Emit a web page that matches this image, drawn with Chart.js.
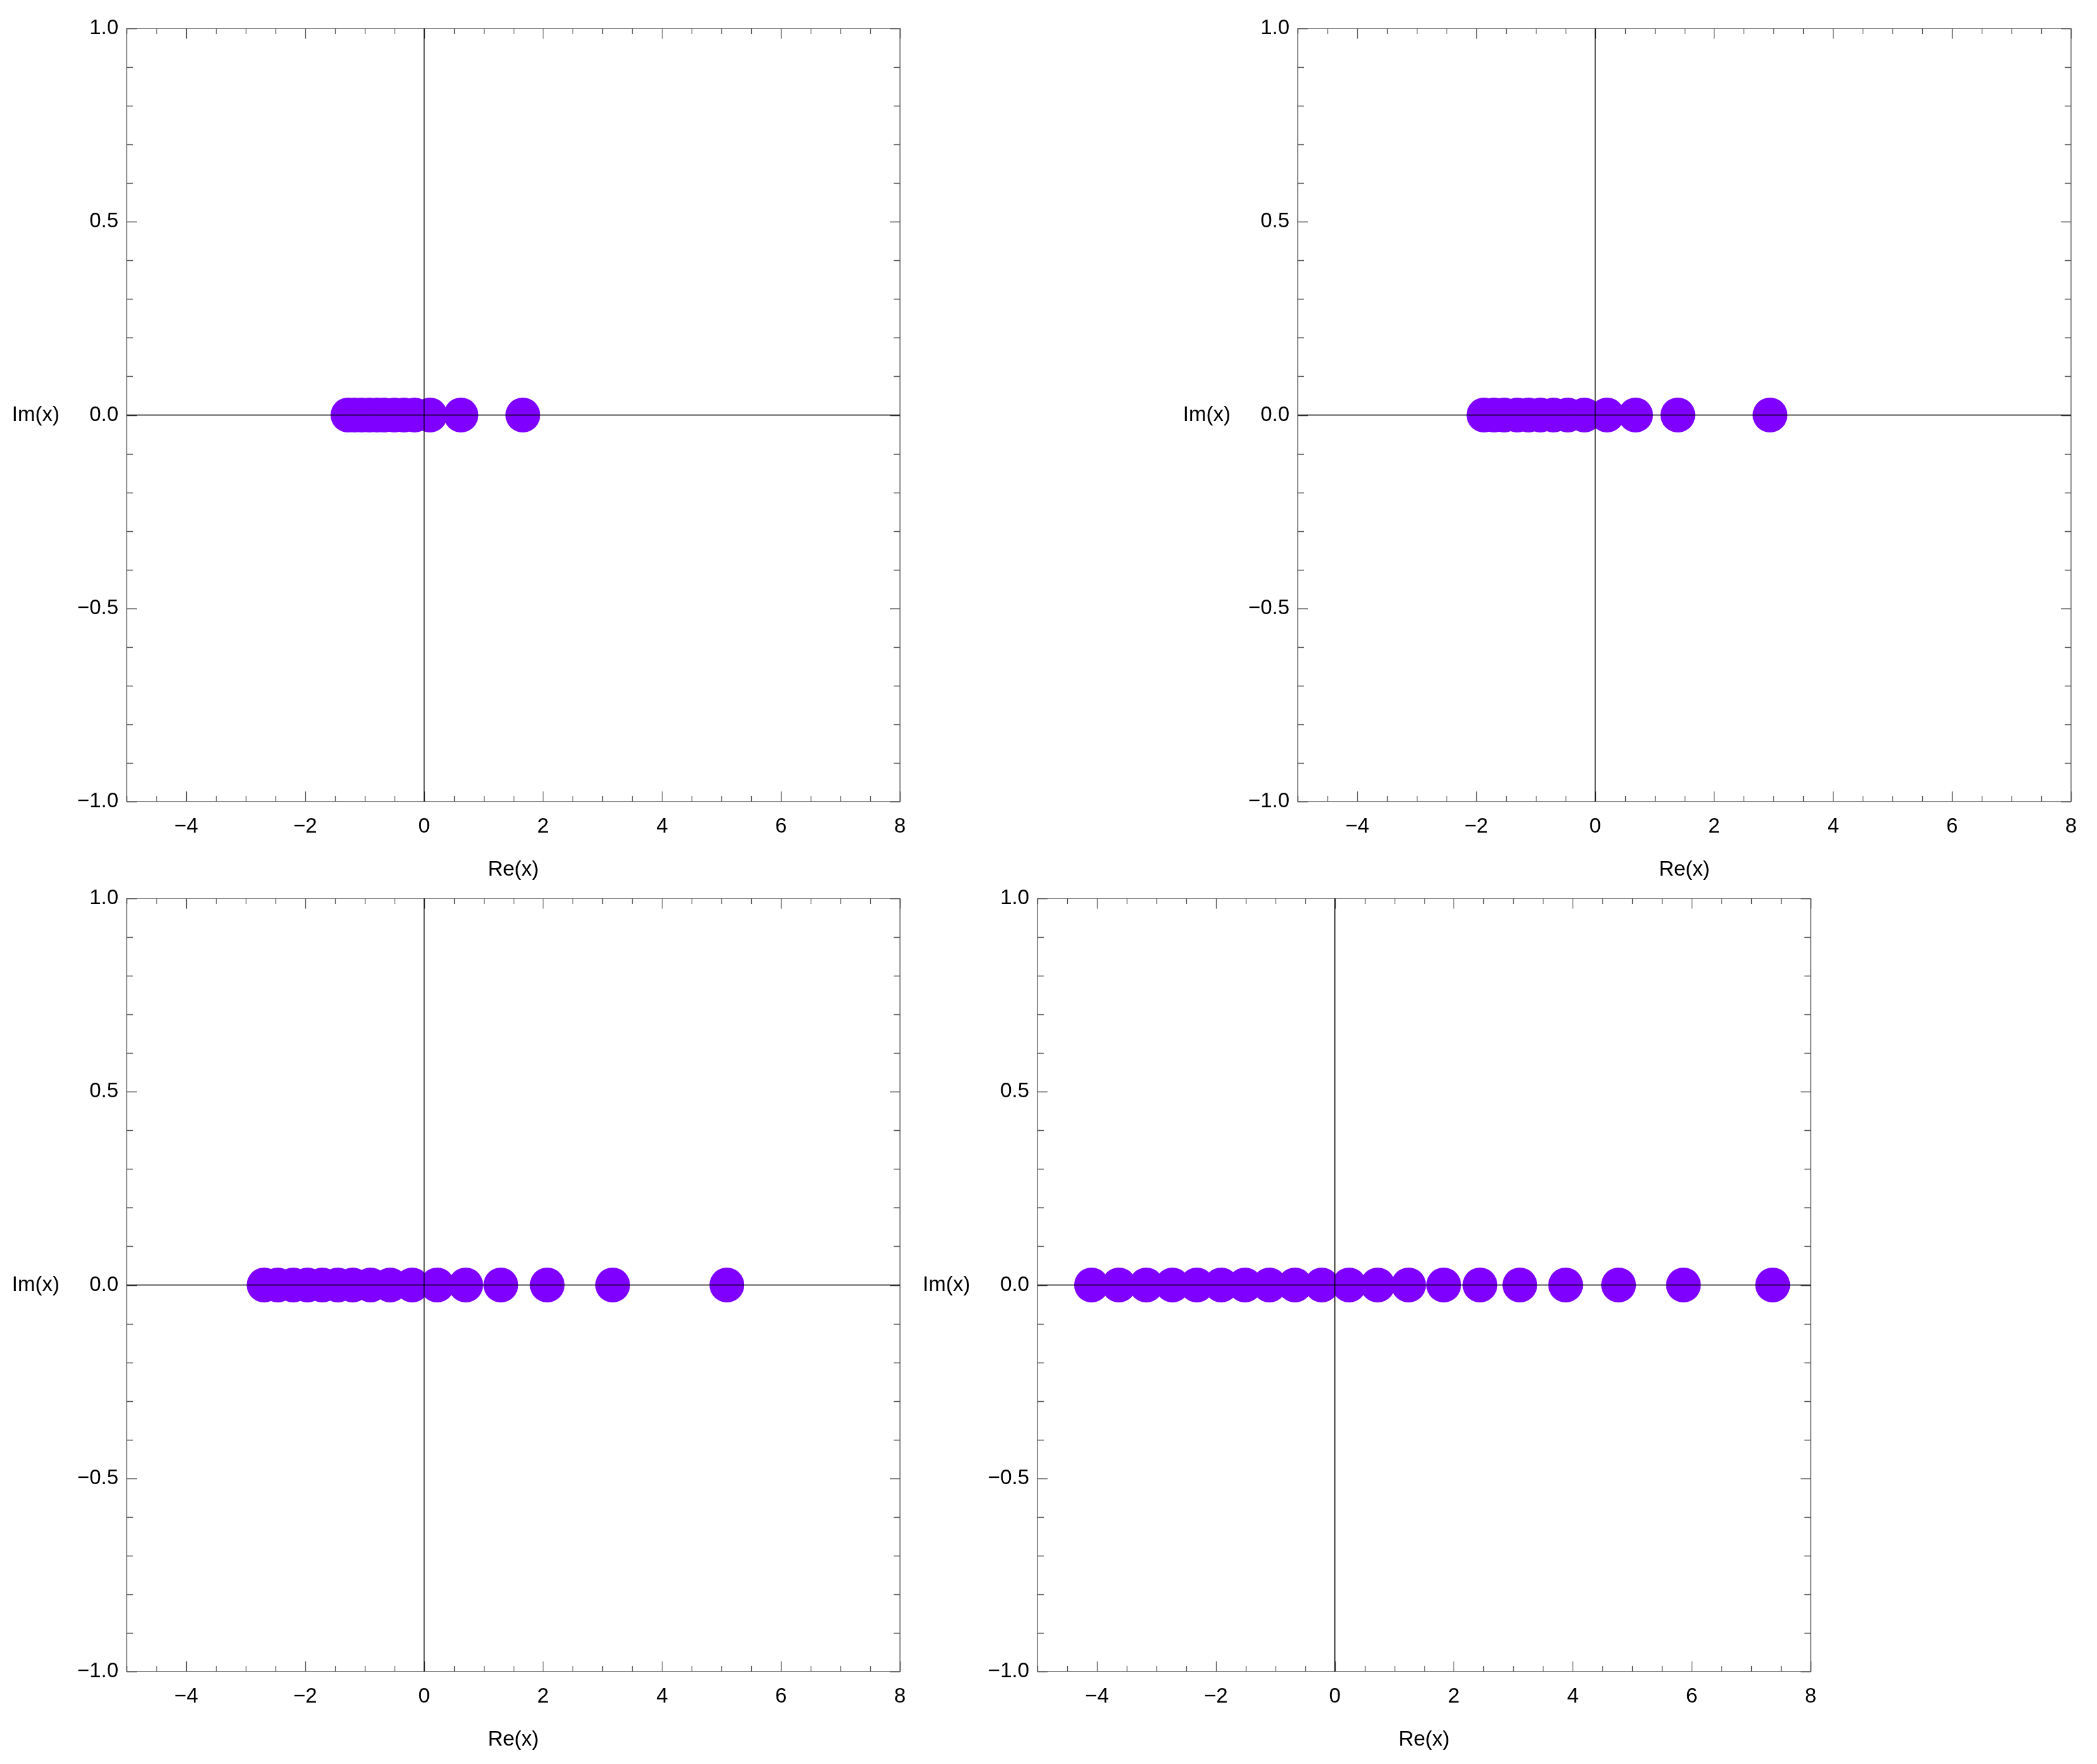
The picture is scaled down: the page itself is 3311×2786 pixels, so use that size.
<!DOCTYPE html>
<html>
<head>
<meta charset="utf-8">
<script src="https://cdn.jsdelivr.net/npm/chart.js@4.4.1/dist/chart.umd.min.js"></script>
<style>
body { margin: 0; background: #fff; width: 3311px; height: 2786px; position: relative; overflow: hidden; }
canvas { position: absolute; }
</style>
</head>
<body>
<canvas id="c1" width="1457" height="1416" style="left:0px;top:0px"></canvas>
<canvas id="c2" width="1457" height="1416" style="left:1849px;top:0px"></canvas>
<canvas id="c3" width="1457" height="1416" style="left:0px;top:1374px"></canvas>
<canvas id="c4" width="1457" height="1416" style="left:1438px;top:1374px"></canvas>
<script>
// real and imaginary parts of the points, one pair of arrays per panel
const re1 = [-1.28, -1.17, -1.05, -0.92, -0.79, -0.67, -0.50, -0.34, -0.16, 0.10, 0.62, 1.66];
const im1 = [0, 0, 0, 0, 0, 0, 0, 0, 0, 0, 0, 0];

const re2 = [-1.87, -1.70, -1.53, -1.31, -1.12, -0.92, -0.70, -0.46, -0.18, 0.20, 0.68, 1.39, 2.94];
const im2 = [0, 0, 0, 0, 0, 0, 0, 0, 0, 0, 0, 0, 0];

const re3 = [-2.69, -2.46, -2.20, -1.96, -1.71, -1.45, -1.20, -0.90, -0.57, -0.20, 0.22, 0.70, 1.29, 2.07, 3.17, 5.09];
const im3 = [0, 0, 0, 0, 0, 0, 0, 0, 0, 0, 0, 0, 0, 0, 0, 0];

const re4 = [-4.09, -3.63, -3.17, -2.73, -2.32, -1.91, -1.51, -1.10, -0.67, -0.22,
             0.24, 0.72, 1.24, 1.83, 2.44, 3.11, 3.88, 4.77, 5.86, 7.36];
const im4 = [0, 0, 0, 0, 0, 0, 0, 0, 0, 0, 0, 0, 0, 0, 0, 0, 0, 0, 0, 0];

// tick labels
const xTicks = [-4, -2, 0, 2, 4, 6, 8];
const yTicks = [-1.0, -0.5, 0.0, 0.5, 1.0];

const FONT = '"Liberation Sans", Arial, sans-serif';
const minus = s => s.replace('-', '\u2212');

// frame, inner ticks and axes drawn the Mathematica way (on top of the points)
const framePlugin = {
    id: 'frame',
    afterDatasetsDraw(chart) {
        const { ctx, chartArea: a, scales: { x, y } } = chart;
        ctx.save();

        // frame
        ctx.strokeStyle = '#555';
        ctx.lineWidth = 1.3;
        ctx.strokeRect(a.left, a.top, a.right - a.left, a.bottom - a.top);

        // x ticks every 0.5, major every 2
        ctx.beginPath();
        for (let v = x.min; v <= x.max + 1e-9; v += 0.5) {
            const px = Math.round(x.getPixelForValue(v)) + 0.5;
            const major = Math.abs(v / 2 - Math.round(v / 2)) < 1e-6;
            const len = major ? 16 : 9;
            ctx.moveTo(px, a.bottom); ctx.lineTo(px, a.bottom - len);
            ctx.moveTo(px, a.top); ctx.lineTo(px, a.top + len);
        }
        // y ticks every 0.1, major every 0.5
        for (let i = 0; i <= 20; i++) {
            const v = y.min + i * 0.1;
            const py = Math.round(y.getPixelForValue(v)) + 0.5;
            const major = i % 5 === 0;
            const len = major ? 16 : 10;
            ctx.moveTo(a.left, py); ctx.lineTo(a.left + len, py);
            ctx.moveTo(a.right, py); ctx.lineTo(a.right - len, py);
        }
        ctx.stroke();

        // axes through the origin
        const x0 = x.getPixelForValue(0);
        const y0 = y.getPixelForValue(0);
        ctx.strokeStyle = '#000';
        ctx.lineWidth = 1.6;
        ctx.beginPath();
        ctx.moveTo(a.left, y0); ctx.lineTo(a.right, y0);
        ctx.moveTo(x0, a.top); ctx.lineTo(x0, a.bottom);
        ctx.stroke();

        // horizontal y-axis label
        ctx.fillStyle = '#000';
        ctx.font = '33px ' + FONT;
        ctx.textAlign = 'right';
        ctx.textBaseline = 'middle';
        ctx.fillText('Im(x)', a.left - 106, y0);
        ctx.restore();
    }
};

function makePanel(id, re, im) {
    const ctx = document.getElementById(id).getContext('2d');
    const points = re.map((v, i) => ({ x: v, y: im[i] }));
    return new Chart(ctx, {
        type: 'scatter',
        data: {
            datasets: [{
                data: points,
                backgroundColor: '#7F00FF',
                borderWidth: 0,
                pointRadius: 27.5,
                pointHoverRadius: 27.5
            }]
        },
        options: {
            responsive: false,
            animation: false,
            devicePixelRatio: 1,
            layout: { padding: { left: 0, right: 36, top: 45, bottom: 0 } },
            plugins: { legend: { display: false }, tooltip: { enabled: false } },
            scales: {
                x: {
                    type: 'linear', min: -5, max: 8,
                    grid: { display: false, drawTicks: false },
                    border: { display: false },
                    afterBuildTicks: s => { s.ticks = xTicks.map(v => ({ value: v })); },
                    afterFit: s => { s.height = 150; },
                    ticks: {
                        padding: 20, color: '#000',
                        font: { family: FONT, size: 33 },
                        callback: v => minus(String(v))
                    },
                    title: {
                        display: true, text: 'Re(x)', color: '#000',
                        font: { family: FONT, size: 33 },
                        padding: { top: 0, bottom: 22 }
                    }
                },
                y: {
                    type: 'linear', min: -1, max: 1,
                    grid: { display: false, drawTicks: false },
                    border: { display: false },
                    afterBuildTicks: s => { s.ticks = yTicks.map(v => ({ value: v })); },
                    afterFit: s => { s.width = 200; },
                    ticks: {
                        padding: 13, color: '#000',
                        font: { family: FONT, size: 33 },
                        callback: v => minus(Number(v).toFixed(1))
                    }
                }
            }
        },
        plugins: [framePlugin]
    });
}

makePanel('c1', re1, im1);
makePanel('c2', re2, im2);
makePanel('c3', re3, im3);
makePanel('c4', re4, im4);
</script>
</body>
</html>
